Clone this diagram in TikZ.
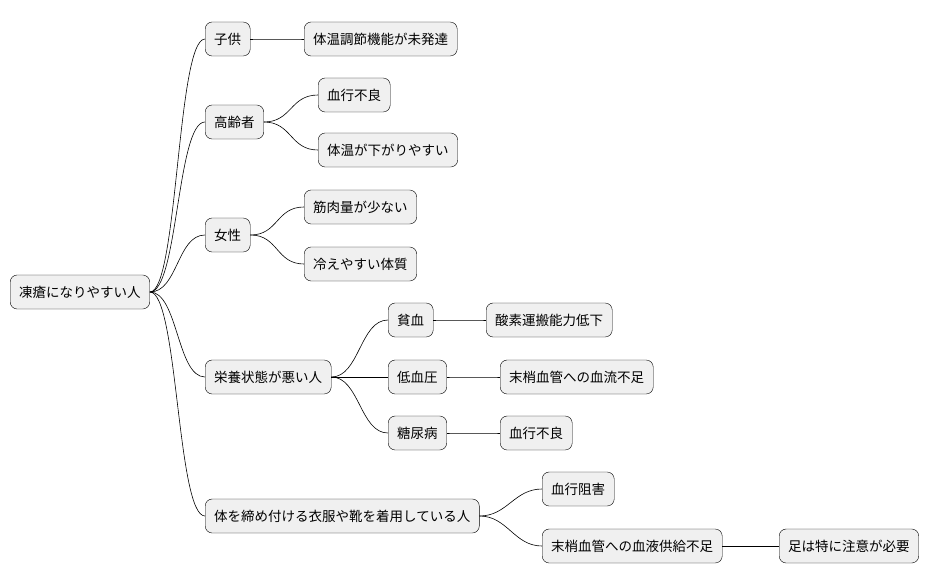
\documentclass[tikz,border=0pt]{standalone}
\usepackage{fontspec}
\setmainfont{Noto Sans CJK JP}
\begin{document}
\begin{tikzpicture}[x=1pt,y=-1pt,
    topic/.style={draw=black, fill=gray!12, rounded corners=7pt, anchor=west,
      minimum height=34pt, inner xsep=9pt, font=\fontsize{13.5pt}{16pt}\selectfont},
    link/.style={draw=black, line width=0.6pt}]
    \useasboundingbox (0,0) rectangle (936,583);

    \node[topic] (root) at (10,292) {凍瘡になりやすい人};

    \node[topic] (child) at (205,39) {子供};
    \node[topic] (childA) at (304,39) {体温調節機能が未発達};

    \node[topic] (elder) at (205,122) {高齢者};
    \node[topic] (elderA) at (318,95) {血行不良};
    \node[topic] (elderB) at (318,150) {体温が下がりやすい};

    \node[topic] (woman) at (205,235) {女性};
    \node[topic] (womanA) at (304,207) {筋肉量が少ない};
    \node[topic] (womanB) at (304,264) {冷えやすい体質};

    \node[topic] (poor) at (205,377) {栄養状態が悪い人};
    \node[topic] (anemia) at (388,320) {貧血};
    \node[topic] (anemiaA) at (486,320) {酸素運搬能力低下};
    \node[topic] (lowbp) at (388,377) {低血圧};
    \node[topic] (lowbpA) at (500,377) {末梢血管への血流不足};
    \node[topic] (diab) at (388,433) {糖尿病};
    \node[topic] (diabA) at (500,433) {血行不良};

    \node[topic] (tight) at (205,516) {体を締め付ける衣服や靴を着用している人};
    \node[topic] (tightA) at (542,489) {血行阻害};
    \node[topic] (tightB) at (542,546) {末梢血管への血液供給不足};
    \node[topic] (tightC) at (779,546) {足は特に注意が必要};

    % connectors
    \foreach \a/\b in {root/child, root/elder, root/woman, root/poor, root/tight,
        child/childA, elder/elderA, elder/elderB, woman/womanA, woman/womanB,
        poor/anemia, poor/lowbp, poor/diab, anemia/anemiaA, lowbp/lowbpA,
        diab/diabA, tight/tightA, tight/tightB, tightB/tightC}
      \draw[link] (\a.east) .. controls +(28,0) and +(-28,0) .. (\b.west);
\end{tikzpicture}
\end{document}
